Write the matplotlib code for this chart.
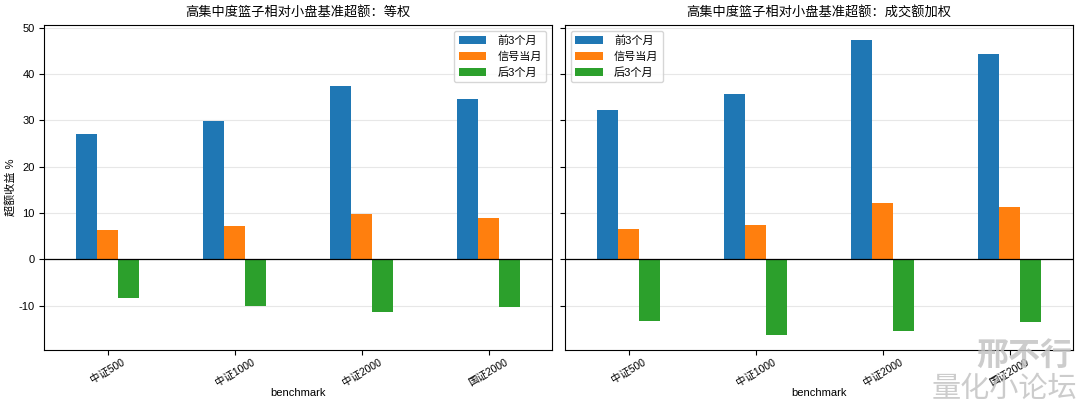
import matplotlib
matplotlib.use("Agg")
import matplotlib.pyplot as plt
import numpy as np
import pandas as pd

plt.rcParams['font.family'] = ['Liberation Sans', 'Noto Sans CJK SC', 'DejaVu Sans']
plt.rcParams['axes.unicode_minus'] = False

benchmarks = ['中证500', '中证1000', '中证2000', '国证2000']
series_names = ['前3个月', '信号当月', '后3个月']

# 等权
eq_before = [27.1, 29.9, 37.4, 34.6]
eq_month = [6.4, 7.2, 9.7, 9.0]
eq_after = [-8.3, -10.1, -11.4, -10.3]

# 成交额加权
amt_before = [32.2, 35.8, 47.4, 44.3]
amt_month = [6.6, 7.4, 12.1, 11.3]
amt_after = [-13.4, -16.4, -15.4, -13.5]

df_eq = pd.DataFrame({series_names[0]: eq_before, series_names[1]: eq_month,
                      series_names[2]: eq_after}, index=benchmarks)
df_eq.index.name = 'benchmark'
df_amt = pd.DataFrame({series_names[0]: amt_before, series_names[1]: amt_month,
                       series_names[2]: amt_after}, index=benchmarks)
df_amt.index.name = 'benchmark'

fig, axes = plt.subplots(1, 2, figsize=(10.8, 4.05), dpi=100, sharey=True)
fig.subplots_adjust(left=0.041, right=0.9935, top=0.938, bottom=0.136, wspace=0.026)

panels = [(df_eq, '高集中度篮子相对小盘基准超额：等权', 'upper right'),
          (df_amt, '高集中度篮子相对小盘基准超额：成交额加权', 'upper left')]
for ax, (df, title, loc) in zip(axes, panels):
    df.plot(kind='bar', ax=ax, rot=30, color=['#1f77b4', '#ff7f0e', '#2ca02c'])
    ax.axhline(0, color='black', linewidth=0.9)
    ax.grid(axis='y', alpha=0.3)
    ax.set_axisbelow(True)
    ax.set_title(title, fontsize=9.5)
    ax.set_xlabel('benchmark', fontsize=8, labelpad=0)
    ax.tick_params(axis='y', labelsize=8)
    ax.tick_params(axis='x', labelsize=7.5, pad=2)
    ax.legend(loc=loc, fontsize=8, handlelength=2.5, handletextpad=1.0)

axes[0].set_ylabel('超额收益 %', fontsize=8, labelpad=2)

fig.text(0.993, 0.083, '邢不行', ha='right', va='bottom', fontsize=23, color='#c4c4c4',
         fontweight='bold', style='italic', alpha=0.85)
fig.text(0.997, 0.005, '量化小论坛', ha='right', va='bottom', fontsize=21, color='#c4c4c4',
         alpha=0.85)

fig.savefig('out.png', dpi=100)
